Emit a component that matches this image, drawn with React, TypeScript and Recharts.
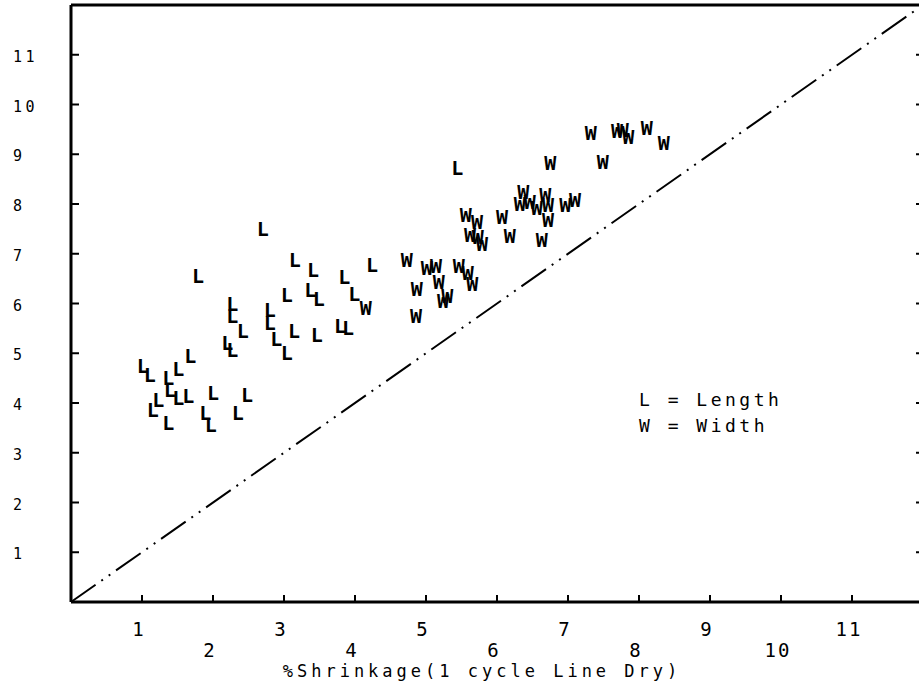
import React from "react";
import { Label, ReferenceLine, Scatter, ScatterChart, XAxis, YAxis } from "recharts";

const xTicks = [1, 2, 3, 4, 5, 6, 7, 8, 9, 10, 11];
const yTicks = [1, 2, 3, 4, 5, 6, 7, 8, 9, 10, 11];
const axisRange = [0, 12];
const xTitle = "%Shrinkage(1 cycle Line Dry)";
const legendLines = ["L = Length", "W = Width"];

// L = Length
const lengthX = [
  1.01, 1.11, 1.37, 1.51, 1.68, 1.39, 1.23, 1.15, 1.37, 1.51, 1.65, 2.0, 1.89, 1.97, 2.35, 2.48,
  2.7, 1.79, 3.15, 3.41, 4.24, 3.85, 3.99, 3.04, 3.37, 3.49, 2.27, 2.27, 2.42, 2.8, 2.8, 2.89,
  3.04, 3.14, 3.46, 3.79, 3.9, 2.2, 2.27, 5.44
];
const lengthY = [
  4.74, 4.56, 4.5, 4.68, 4.94, 4.26, 4.06, 3.86, 3.59, 4.1, 4.14, 4.2, 3.8, 3.55, 3.8, 4.16,
  7.49, 6.55, 6.87, 6.67, 6.77, 6.53, 6.2, 6.18, 6.27, 6.1, 5.98, 5.74, 5.44, 5.86, 5.6, 5.28,
  5.0, 5.44, 5.36, 5.54, 5.5, 5.2, 5.06, 8.73
];

// W = Width
const widthX = [
  4.15, 4.73, 4.87, 4.86, 5.01, 5.14, 5.18, 5.24, 5.3, 5.46, 5.59, 5.65, 5.56, 5.72, 5.62, 5.73,
  5.79, 6.07, 6.18, 6.37, 6.32, 6.46, 6.56, 6.68, 6.72, 6.72, 6.63, 6.96, 7.1, 6.75, 7.49, 7.32,
  7.69, 7.77, 7.85, 8.11, 8.35
];
const widthY = [
  5.9, 6.87, 6.3, 5.74, 6.71, 6.75, 6.43, 6.06, 6.16, 6.75, 6.62, 6.4, 7.77, 7.63, 7.37, 7.33,
  7.19, 7.73, 7.35, 8.25, 8.01, 8.05, 7.91, 8.19, 7.97, 7.67, 7.27, 7.97, 8.09, 8.82, 8.84, 9.42,
  9.46, 9.48, 9.34, 9.52, 9.22
];

const lengthData = lengthX.map((x, i) => ({ x, y: lengthY[i] }));
const widthData = widthX.map((x, i) => ({ x, y: widthY[i] }));

const FONT = "'DejaVu Sans Mono', monospace";
const INK = "#000";

const glyph = (ch: string) => (props: any) => (
  <text x={props.cx} y={props.cy} dy={7} textAnchor="middle" fontFamily={FONT} fontSize={20} fontWeight="bold" fill={INK}>
    {ch}
  </text>
);

function BottomTick({ x, y, payload }: any) {
  const odd = payload.value % 2 === 1;
  return (
    <g>
      <line x1={x} x2={x} y1={y} y2={y - 7} stroke={INK} strokeWidth={2} />
      <text x={x - 3} y={y + (odd ? 34 : 55)} textAnchor="middle" fontFamily={FONT} fontSize={19} letterSpacing={2} fill={INK}>
        {payload.value}
      </text>
    </g>
  );
}

function TopTick({ x, y }: any) {
  return <line x1={x} x2={x} y1={y} y2={y + 7} stroke={INK} strokeWidth={2} />;
}

function LeftTick({ x, y, payload }: any) {
  return (
    <g>
      <line x1={x} x2={x + 8} y1={y} y2={y} stroke={INK} strokeWidth={2} />
      <text x={x - 58} y={y + 7} textAnchor="start" fontFamily={FONT} fontSize={15} letterSpacing={3.5} fill={INK}>
        {payload.value}
      </text>
    </g>
  );
}

function RightTick({ x, y }: any) {
  return <line x1={x} x2={x - 7} y1={y} y2={y} stroke={INK} strokeWidth={2} />;
}

export default function App() {
  const axisLine = { stroke: INK, strokeWidth: 3 };
  return (
    <div style={{ position: "absolute", left: 0, top: 0, width: 919, height: 685, overflow: "hidden", background: "#fff", fontFamily: FONT }}>
      <ScatterChart width={935} height={685} margin={{ top: 0, right: 0, bottom: 0, left: 0 }}>
        <XAxis
          xAxisId="bottom"
          dataKey="x"
          type="number"
          orientation="bottom"
          domain={axisRange}
          ticks={xTicks}
          interval={0}
          allowDataOverflow
          height={83}
          axisLine={axisLine}
          tickLine={false}
          tickSize={0}
          tickMargin={0}
          tick={<BottomTick />}
        >
          <Label value={xTitle} position="insideBottom" offset={8} dx={-15} fontFamily={FONT} fontSize={17} letterSpacing={4} fill={INK} />
        </XAxis>
        <XAxis
          xAxisId="top"
          type="number"
          orientation="top"
          domain={axisRange}
          ticks={xTicks}
          interval={0}
          allowDataOverflow
          height={5}
          axisLine={axisLine}
          tickLine={false}
          tickSize={0}
          tickMargin={0}
          tick={<TopTick />}
        />
        <YAxis
          yAxisId="left"
          dataKey="y"
          type="number"
          orientation="left"
          domain={axisRange}
          ticks={yTicks}
          interval={0}
          allowDataOverflow
          width={71}
          axisLine={axisLine}
          tickLine={false}
          tickSize={0}
          tickMargin={0}
          tick={<LeftTick />}
        />
        <YAxis
          yAxisId="right"
          type="number"
          orientation="right"
          domain={axisRange}
          ticks={yTicks}
          interval={0}
          allowDataOverflow
          width={12}
          axisLine={axisLine}
          tickLine={false}
          tickSize={0}
          tickMargin={0}
          tick={<RightTick />}
        />
        <ReferenceLine
          xAxisId="bottom"
          yAxisId="left"
          segment={[
            { x: axisRange[0], y: axisRange[0] },
            { x: axisRange[1], y: axisRange[1] }
          ]}
          stroke={INK}
          strokeWidth={2}
          strokeDasharray="30 7 2 7 2 7"
        />
        <Scatter xAxisId="bottom" yAxisId="left" data={lengthData} shape={glyph("L")} isAnimationActive={false} />
        <Scatter xAxisId="bottom" yAxisId="left" data={widthData} shape={glyph("W")} isAnimationActive={false} />
      </ScatterChart>
      <div
        style={{
          position: "absolute",
          left: 639,
          top: 387,
          fontFamily: FONT,
          fontSize: 18,
          lineHeight: "26px",
          letterSpacing: 3.5,
          whiteSpace: "pre",
          color: INK
        }}
      >
        {legendLines.map((t) => (
          <div key={t}>{t}</div>
        ))}
      </div>
    </div>
  );
}
